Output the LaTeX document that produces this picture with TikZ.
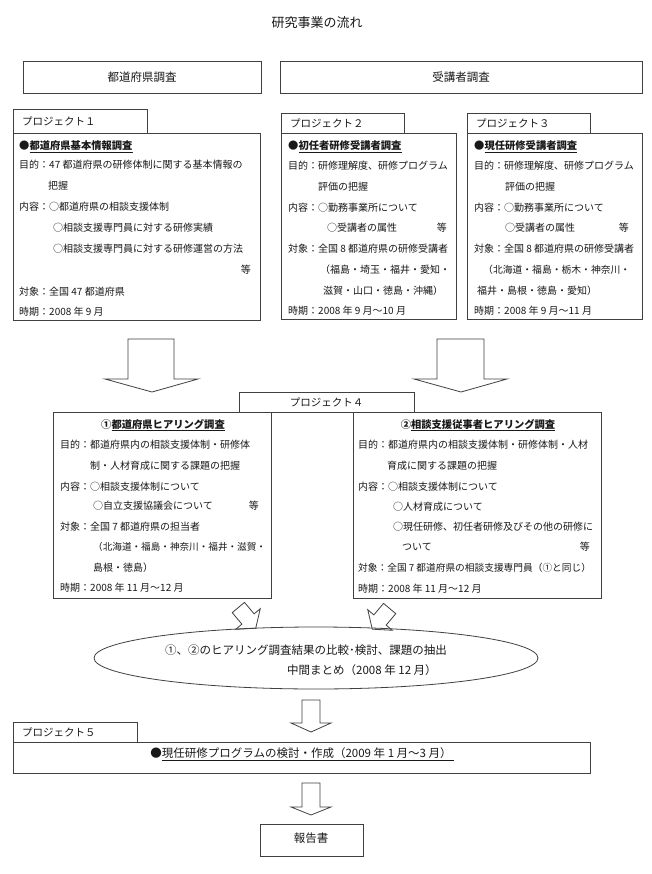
\documentclass[tikz,border=0pt]{standalone}
\usepackage{fontspec}
\setmainfont{Noto Sans CJK JP}
\usetikzlibrary{shapes.geometric}
\tikzset{
  frame/.style={draw=black!75, line width=0.8pt, inner sep=0pt, outer sep=0pt},
  bx/.style={frame, rectangle},
  tl/.style={anchor=west, inner sep=0pt, font=\fontsize{10}{12}\selectfont, text=black!90},
  tr/.style={tl, anchor=east},
  hd/.style={tl, font=\fontsize{10.3}{12}\selectfont\bfseries},
  tabtxt/.style={tl, font=\fontsize{10.5}{12}\selectfont},
  lbl/.style={inner sep=0pt, text=black!90},
  blockarrow/.style={draw=black!75, line width=0.8pt, fill=white, line join=miter},
}
\newcommand\tline[5][]{\node[tl,#1] (#2) at (#3,#4) {#5};}
\begin{document}
\begin{tikzpicture}[x=1pt,y=-1pt]
\fill[white] (0,0) rectangle (652,874);
\useasboundingbox (0,0) rectangle (652,874);

% title
\node[lbl, font=\fontsize{13}{15}\selectfont] (title) at (317,23) {研究事業の流れ};

% top category boxes
\node[bx, minimum width=238pt, minimum height=32pt] (catA) at (142,77) {};
\node[lbl, font=\fontsize{11.5}{13}\selectfont] (catAt) at (142,77) {都道府県調査};
\node[bx, minimum width=362pt, minimum height=32pt] (catB) at (461,77) {};
\node[lbl, font=\fontsize{11.5}{13}\selectfont] (catBt) at (461,77) {受講者調査};

% ---------- Project 1 ----------
\node[bx, minimum width=134pt, minimum height=24pt] (p1tab) at (80,121) {};
\node[tabtxt] (p1tabt) at (22,121) {プロジェクト１};
\node[bx, minimum width=247pt, minimum height=187pt] (p1) at (136.5,226.5) {};
\node[hd] (p1h) at (19,147) {●\underline{都道府県基本情報調査}};
\tline{p1a}{19}{165}{目的：47 都道府県の研修体制に関する基本情報の}
\tline{p1b}{48}{186}{把握}
\tline{p1c}{19}{207}{内容：○都道府県の相談支援体制}
\tline{p1d}{53}{228}{○相談支援専門員に対する研修実績}
\tline{p1e}{53}{249}{○相談支援専門員に対する研修運営の方法}
\node[tr] (p1f) at (251,270) {等};
\tline{p1g}{19}{292}{対象：全国 47 都道府県}
\tline{p1h2}{19}{312}{時期：2008 年 9 月}

% ---------- Project 2 ----------
\node[bx, minimum width=123pt, minimum height=20pt] (p2tab) at (342.5,123) {};
\node[tabtxt] (p2tabt) at (290,123) {プロジェクト２};
\node[bx, minimum width=175pt, minimum height=186pt] (p2) at (368.5,226) {};
\node[hd] (p2h) at (288,147) {●\underline{初任者研修受講者調査}};
\tline{p2a}{288}{166}{目的：研修理解度、研修プログラム}
\tline{p2b}{318}{187}{評価の把握}
\tline{p2c}{288}{208}{内容：○勤務事業所について}
\tline{p2d}{327}{228}{○受講者の属性}
\node[tr] (p2e) at (447,228) {等};
\tline{p2f}{288}{249}{対象：全国 8 都道府県の研修受講者}
\tline{p2g}{320}{270}{（福島・埼玉・福井・愛知・}
\tline{p2h2}{323}{291}{滋賀・山口・徳島・沖縄）}
\tline{p2i}{288}{311}{時期：2008 年 9 月～10 月}

% ---------- Project 3 ----------
\node[bx, minimum width=123pt, minimum height=20pt] (p3tab) at (528.5,123) {};
\node[tabtxt] (p3tabt) at (476,123) {プロジェクト３};
\node[bx, minimum width=175pt, minimum height=186pt] (p3) at (554.5,226) {};
\node[hd] (p3h) at (474,147) {●\underline{現任研修受講者調査}};
\tline{p3a}{474}{166}{目的：研修理解度、研修プログラム}
\tline{p3b}{505}{187}{評価の把握}
\tline{p3c}{474}{208}{内容：○勤務事業所について}
\tline{p3d}{505}{228}{○受講者の属性}
\node[tr] (p3e) at (629,228) {等};
\tline{p3f}{474}{249}{対象：全国 8 都道府県の研修受講者}
\tline[font=\fontsize{9.8}{12}\selectfont]{p3g}{483}{270}{（北海道・福島・栃木・神奈川・}
\tline{p3h2}{477}{291}{福井・島根・徳島・愛知）}
\tline{p3i}{474}{311}{時期：2008 年 9 月～11 月}

% big arrows down
\draw[blockarrow] (128,339) -- (174,339) -- (174,379) -- (198,379) -- (152,392) -- (105,379) -- (128,379) -- cycle;
\draw[blockarrow] (437,339) -- (484,339) -- (484,379) -- (507,379) -- (461,392) -- (414,379) -- (437,379) -- cycle;

% ---------- Project 4 ----------
\node[bx, minimum width=175pt, minimum height=20pt] (p4tab) at (326.5,402) {};
\node[lbl, font=\fontsize{10.5}{12}\selectfont] (p4tabt) at (326.5,402) {プロジェクト４};
\node[bx, minimum width=218pt, minimum height=186pt] (p4l) at (162,505) {};
\node[bx, minimum width=248pt, minimum height=186pt] (p4r) at (477,505) {};

\node[lbl, font=\fontsize{10.3}{12}\selectfont\bfseries] (p4lh) at (163,425) {①\underline{都道府県ヒアリング調査}};
\tline{p4la}{60}{445}{目的：都道府県内の相談支援体制・研修体}
\tline{p4lb}{90}{466}{制・人材育成に関する課題の把握}
\tline{p4lc}{60}{487}{内容：○相談支援体制について}
\tline{p4ld}{93}{506}{○自立支援協議会について}
\node[tr] (p4le) at (259,506) {等};
\tline{p4lf}{60}{527}{対象：全国 7 都道府県の担当者}
\tline[font=\fontsize{9.6}{12}\selectfont]{p4lg}{93}{547}{（北海道・福島・神奈川・福井・滋賀・}
\tline{p4lh2}{93}{568}{島根・徳島）}
\tline{p4li}{60}{588}{時期：2008 年 11 月～12 月}

\node[lbl, font=\fontsize{10.3}{12}\selectfont\bfseries] (p4rh) at (478,425) {②\underline{相談支援従事者ヒアリング調査}};
\tline{p4ra}{358}{445}{目的：都道府県内の相談支援体制・研修体制・人材}
\tline{p4rb}{387}{466}{育成に関する課題の把握}
\tline{p4rc}{358}{487}{内容：○相談支援体制について}
\tline{p4rd}{393}{507}{○人材育成について}
\tline{p4re}{393}{527}{○現任研修、初任者研修及びその他の研修に}
\tline{p4rf}{402}{547}{ついて}
\node[tr] (p4rg) at (590,547) {等};
\tline[font=\fontsize{9.7}{12}\selectfont]{p4rh2}{358}{568}{対象：全国 7 都道府県の相談支援専門員（①と同じ）}
\tline{p4ri}{358}{589}{時期：2008 年 11 月～12 月}

% tilted arrows into ellipse
\begin{scope}[shift={(248,619)}, rotate=40]
\draw[blockarrow] (-8,-15) -- (8,-15) -- (8,0) -- (16,0) -- (0,12) -- (-16,0) -- (-8,0) -- cycle;
\end{scope}
\begin{scope}[shift={(380,620)}, rotate=-40]
\draw[blockarrow] (-8,-15) -- (8,-15) -- (8,0) -- (16,0) -- (0,12) -- (-16,0) -- (-8,0) -- cycle;
\end{scope}

% ellipse
\node[frame, ellipse, minimum width=444pt, minimum height=62pt] (ell) at (316,658) {};
\node[tl, font=\fontsize{11.5}{13}\selectfont] (ella) at (165,650) {①、②のヒアリング調査結果の比較･検討、課題の抽出};
\node[tl, font=\fontsize{11.5}{13}\selectfont] (ellb) at (287,670) {中間まとめ（2008 年 12 月）};

% arrow to project 5
\draw[blockarrow] (302,700) -- (320,700) -- (320,723) -- (331,723) -- (311,732) -- (291,723) -- (302,723) -- cycle;

% ---------- Project 5 ----------
\node[bx, minimum width=124pt, minimum height=20pt] (p5tab) at (75,732) {};
\node[tabtxt] (p5tabt) at (22,732) {プロジェクト５};
\node[bx, minimum width=577pt, minimum height=31pt] (p5) at (301.5,757.5) {};
\node[lbl, font=\fontsize{11.5}{13}\selectfont] (p5t) at (302,754) {●\underline{現任研修プログラムの検討・作成（2009 年 1 月～3 月）\,}};

% arrow to report
\draw[blockarrow] (302,783) -- (320,783) -- (320,807) -- (331,807) -- (311,815) -- (291,807) -- (302,807) -- cycle;

% report
\node[bx, minimum width=103pt, minimum height=32pt] (rep) at (311.5,840) {};
\node[lbl, font=\fontsize{11.5}{13}\selectfont] (rept) at (311,838) {報告書};
\end{tikzpicture}
\end{document}
